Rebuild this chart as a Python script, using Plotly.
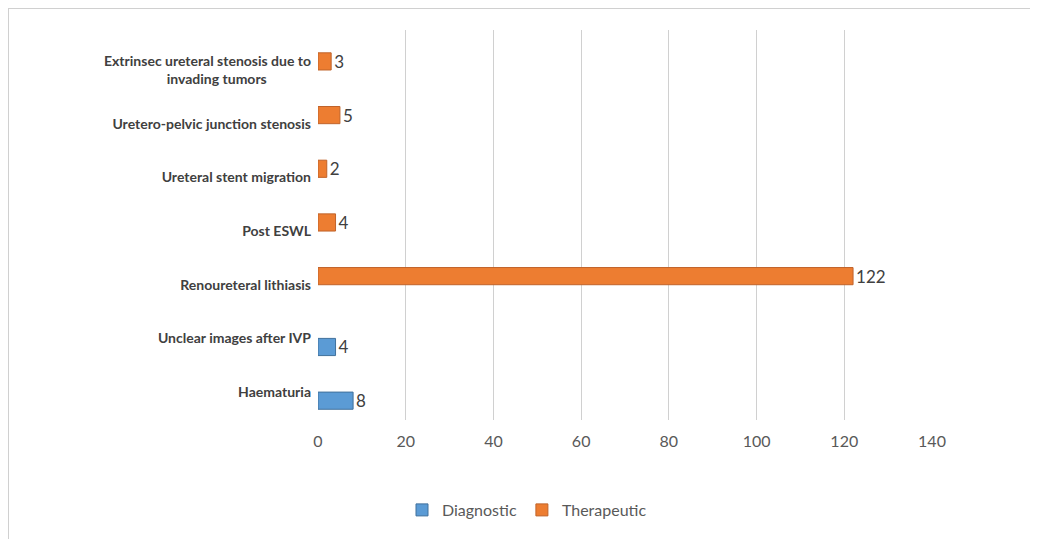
import plotly.graph_objects as go

pad = "\u00a0" * 13
categories = [
    "Haematuria",
    "Unclear images after IVP",
    "Renoureteral lithiasis",
    "Post ESWL",
    "Ureteral stent migration",
    "Uretero-pelvic junction stenosis",
    "Extrinsec ureteral stenosis due to<br>invading tumors" + pad,
]
diagnostic = [8, 4, None, None, None, None, None]
therapeutic = [None, None, 122, 4, 2, 5, 3]
x_ticks = [0, 20, 40, 60, 80, 100, 120, 140]

blue = "#5B9BD5"
orange = "#ED7D31"

fig = go.Figure()
fig.add_trace(go.Bar(
    name="Diagnostic", y=categories, x=diagnostic, orientation="h",
    marker=dict(color=blue, line=dict(color="#41719C", width=1)),
    text=diagnostic, textposition="outside", cliponaxis=False, constraintext="none",
    textfont=dict(size=17, color="#404040", family="Lato"),
))
fig.add_trace(go.Bar(
    name="Therapeutic", y=categories, x=therapeutic, orientation="h",
    marker=dict(color=orange, line=dict(color="#C0632A", width=1)),
    text=therapeutic, textposition="outside", cliponaxis=False, constraintext="none",
    textfont=dict(size=17, color="#404040", family="Lato"),
))

L, T, W, H = 310, 22, 614, 390
fig.update_layout(
    width=1038, height=539,
    barmode="group", bargap=0.36, bargroupgap=0,
    plot_bgcolor="white", paper_bgcolor="white",
    margin=dict(l=L, r=1038 - L - W, t=T, b=539 - T - H),
    font=dict(family="Lato", color="#595959"),
    legend=dict(
        orientation="h", xref="container", yref="container",
        x=0.5, xanchor="center", y=1 - 502 / 539, yanchor="middle",
        font=dict(size=16, color="#595959", family="Lato"),
        traceorder="normal", itemwidth=30,
    ),
    xaxis=dict(
        range=[0, 140], tickvals=x_ticks, showgrid=True,
        gridcolor="#D0D0D0", gridwidth=1, zeroline=False,
        showline=False, tickfont=dict(size=16, color="#595959"),
        ticks="", ticklabelstandoff=10,
    ),
    yaxis=dict(
        range=[-0.52, 6.745], showgrid=False, zeroline=False,
        showline=False, ticks="", ticklabelstandoff=6,
        tickfont=dict(size=14, color="#404040", family="Lato", weight="bold"),
    ),
    shapes=[
        dict(type="line", xref="paper", yref="paper", x0=-L / W, x1=-L / W,
             y0=-1, y1=(T + H) / H, line=dict(color="#D0D0D0", width=2)),
        dict(type="line", xref="paper", yref="paper", x0=-L / W, x1=2,
             y0=(T + H) / H, y1=(T + H) / H, line=dict(color="#D0D0D0", width=2)),
    ],
)

fig.write_html("out.html")
